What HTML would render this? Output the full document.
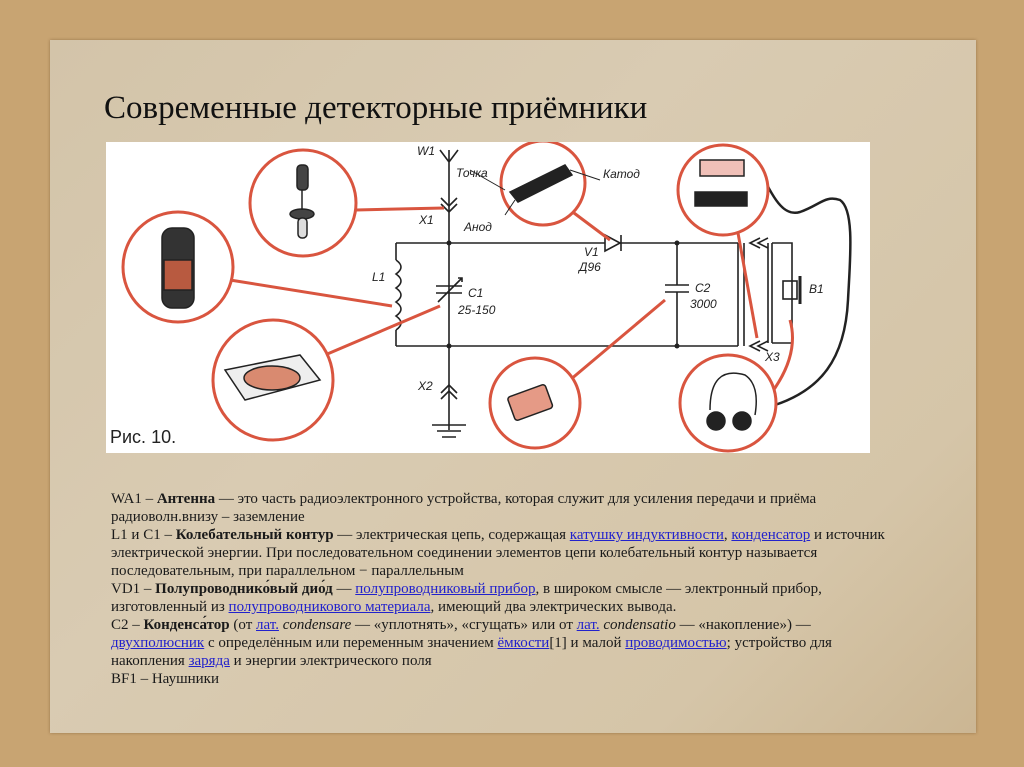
<!DOCTYPE html>
<html><head><meta charset="utf-8"><style>
html,body{margin:0;padding:0}
body{width:1024px;height:767px;overflow:hidden;background:#c8a472;position:relative;font-family:"Liberation Serif",serif}
.paper{position:absolute;left:50px;top:40px;width:926px;height:693px;background:linear-gradient(135deg,#d3c4a9 0%,#d9cbb2 40%,#d5c5a8 80%,#cbb693 100%);box-shadow:0 0 3px rgba(80,50,20,.4)}
h1{position:absolute;left:104px;top:90px;margin:0;font-weight:normal;font-size:33px;color:#111;white-space:nowrap}
.txt{position:absolute;left:111px;top:490px;font-size:15px;line-height:18px;color:#1a1a1a;white-space:nowrap}
a{color:#2222cc;text-decoration:underline}
svg{position:absolute;left:106px;top:142px}
</style></head><body>
<div class="paper"></div>
<h1>Современные детекторные приёмники</h1>
<svg width="764" height="311" viewBox="106 142 764 311">
<rect x="106" y="142" width="764" height="311" fill="#fff"/>
<g stroke="#222" stroke-width="1.6" fill="none">
<path d="M449 160 V430 M440 150 L449 162 L458 150 M449 150 V162"/>
<path d="M441 198 L449 206 L457 198 M441 204 L449 212 L457 204"/>
<path d="M441 393 L449 385 L457 393 M441 399 L449 391 L457 399"/>
<path d="M432 425 H466 M437 431 H461 M442 437 H456"/>
<path d="M396 243 H738 M396 346 H738 M396 243 V260 M396 330 V346"/>
<path d="M396 260 q10 7 0 14 q10 7 0 14 q10 7 0 14 q10 7 0 14 q10 7 0 14"/>
<path d="M436 286 H462 M436 293 H462 M438 302 L462 278 M458 278 h4 v4"/>
<path d="M677 243 V285 M665 285 H689 M665 292 H689 M677 292 V346"/>
<path d="M738 243 V346 M744 243 V346"/>
<path d="M760 238 L750 243 L760 248 M768 238 L758 243 L768 248"/>
<path d="M760 341 L750 346 L760 351 M768 341 L758 346 L768 351"/>
<path d="M768 243 V343 M772 243 V343 M772 243 H792 V343 H772"/>
<rect x="783" y="281" width="14" height="18"/>
<path d="M800 276 V304" stroke-width="3"/>
<path d="M752 155 C770 190 780 218 800 212 C820 205 825 195 840 200 C855 210 850 260 848 300 C845 360 820 390 775 405" stroke-width="2.5"/>
</g>
<path d="M605 235 L605 251 L620 243 Z M621 235 V251" stroke="#222" stroke-width="1.6" fill="#fff"/>
<g fill="#222"><circle cx="449" cy="243" r="2.5"/><circle cx="449" cy="346" r="2.5"/><circle cx="677" cy="243" r="2.5"/><circle cx="677" cy="346" r="2.5"/></g>
<g stroke="#d9553f" stroke-width="3" fill="#fff">
<path d="M356 210 L444 208"/>
<path d="M230 280 L392 306"/>
<path d="M325 355 L440 306"/>
<path d="M570 210 L610 240"/>
<path d="M570 380 L665 300"/>
<path d="M738 233 L757 338"/>
<path d="M770 395 q30 -40 20 -75" fill="none"/>
<circle cx="303" cy="203" r="53"/>
<circle cx="178" cy="267" r="55"/>
<circle cx="273" cy="380" r="60"/>
<circle cx="543" cy="183" r="42"/>
<circle cx="535" cy="403" r="45"/>
<circle cx="723" cy="190" r="45"/>
<circle cx="728" cy="403" r="48"/>
</g>
<g stroke="#222" stroke-width="1.5">
<rect x="297" y="165" width="11" height="25" rx="4" fill="#444"/><ellipse cx="302" cy="214" rx="12" ry="5" fill="#444"/><rect x="298" y="218" width="9" height="20" rx="4" fill="#ddd"/><path d="M302 190 V210"/>
<rect x="162" y="228" width="32" height="80" rx="10" fill="#333"/><rect x="164" y="260" width="28" height="30" fill="#b85a40"/>
<path d="M225 370 L300 355 L320 380 L245 400 Z" fill="#eee"/><ellipse cx="272" cy="378" rx="28" ry="12" fill="#d98a70"/>
<path d="M510 192 L565 165 L572 175 L518 202 Z" fill="#222"/>
<path d="M505 190 L470 170 M515 200 L505 215 M570 170 L600 180" fill="none" stroke-width="1"/>
<rect x="510" y="390" width="40" height="25" rx="3" fill="#e59a86" transform="rotate(-20 530 402)"/>
<rect x="700" y="160" width="44" height="16" fill="#f0c0b8"/><rect x="695" y="192" width="52" height="14" fill="#222"/>
<path d="M710 410 q0 -45 35 -35 q15 10 10 40" fill="none"/><circle cx="716" cy="421" r="9" fill="#222"/><circle cx="742" cy="421" r="9" fill="#222"/>
</g>
<g font-family="Liberation Sans,sans-serif" font-style="italic" font-size="12" fill="#222">
<text x="417" y="155">W1</text><text x="456" y="177">Точка</text><text x="419" y="224">X1</text><text x="464" y="231">Анод</text>
<text x="603" y="178">Катод</text><text x="372" y="281">L1</text><text x="468" y="297">C1</text><text x="458" y="314">25-150</text>
<text x="584" y="256">V1</text><text x="579" y="271">Д96</text><text x="695" y="292">C2</text><text x="690" y="308">3000</text>
<text x="809" y="293">B1</text><text x="765" y="361">X3</text><text x="418" y="390">X2</text>
</g>
<text x="110" y="443" font-family="Liberation Sans,sans-serif" font-size="18" fill="#222">Рис. 10.</text>
</svg>
<div class="txt">WA1 – <b>Антенна</b> — это часть радиоэлектронного устройства, которая служит для усиления передачи и приёма<br>радиоволн.внизу – заземление<br>L1 и C1 – <b>Колебательный контур</b> — электрическая цепь, содержащая <a>катушку индуктивности</a>, <a>конденсатор</a> и источник<br>электрической энергии. При последовательном соединении элементов цепи колебательный контур называется<br>последовательным, при параллельном − параллельным<br>VD1 – <b>Полупроводнико́вый дио́д</b> — <a>полупроводниковый прибор</a>, в широком смысле — электронный прибор,<br>изготовленный из <a>полупроводникового материала</a>, имеющий два электрических вывода.<br>C2 – <b>Конденса́тор</b> (от <a>лат.</a> <i>condensare</i> — «уплотнять», «сгущать» или от <a>лат.</a> <i>condensatio</i> — «накопление») —<br><a>двухполюсник</a> с определённым или переменным значением <a>ёмкости</a>[1] и малой <a>проводимостью</a>; устройство для<br>накопления <a>заряда</a> и энергии электрического поля<br>BF1 – Наушники</div>
</body></html>
